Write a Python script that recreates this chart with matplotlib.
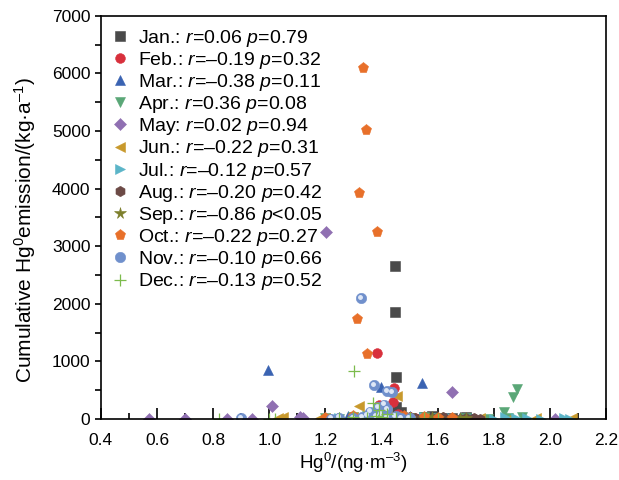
import matplotlib
matplotlib.use("Agg")
import matplotlib.pyplot as plt
from matplotlib.ticker import MultipleLocator

plt.rcParams["font.family"] = ["Liberation Sans", "DejaVu Sans"]
plt.rcParams["mathtext.fontset"] = "custom"
plt.rcParams["mathtext.rm"] = "Liberation Sans"
plt.rcParams["mathtext.it"] = "Liberation Sans:italic"

# Hg0 concentration (x) and cumulative emission (y) per month
jan_x = [1.448, 1.448, 1.45, 1.45, 1.38, 1.42, 1.46, 1.50, 1.55, 1.60, 1.65, 1.70, 1.43, 1.47, 1.36, 1.52, 1.58, 1.62, 1.72]
jan_y = [2658, 1859, 730, 208, 30, 20, 60, 15, 40, 25, 10, 30, 90, 120, 10, 5, 50, 20, 8]
feb_x = [1.384, 1.445, 1.42, 1.40, 1.44, 1.35, 1.38, 1.41, 1.43, 1.46, 1.30, 1.50, 1.33, 1.47, 1.36, 1.52, 1.29, 1.39]
feb_y = [1146, 538, 200, 150, 300, 40, 20, 60, 10, 80, 15, 30, 5, 25, 90, 10, 30, 250]
mar_x = [0.995, 1.544, 1.398, 0.90, 1.25, 1.30, 1.35, 1.40, 1.45, 1.50, 1.55, 1.60, 1.68, 1.72, 1.22, 1.38, 1.28]
mar_y = [851, 625, 556, 20, 30, 10, 40, 60, 20, 50, 15, 30, 40, 10, 5, 100, 60]
apr_x = [1.883, 1.869, 1.837, 1.20, 1.30, 1.35, 1.40, 1.45, 1.50, 1.55, 1.60, 1.70, 1.78, 1.90, 1.85, 1.25]
apr_y = [521, 382, 122, 10, 30, 60, 20, 40, 10, 30, 20, 15, 5, 30, 10, 5]
may_x = [1.202, 1.651, 1.01, 0.57, 0.70, 0.85, 0.94, 1.11, 1.12, 1.20, 1.24, 1.30, 1.35, 1.40, 1.45, 1.50, 1.55, 1.70, 2.02]
may_y = [3248, 469, 226, 0, 0, 0, 0, 40, 10, 20, 5, 0, 30, 60, 40, 10, 20, 5, 0]
jun_x = [1.32, 1.455, 1.03, 1.05, 1.18, 1.20, 1.30, 1.35, 1.40, 1.45, 1.50, 1.55, 1.60, 1.75, 1.95, 2.08, 1.42, 1.85]
jun_y = [226, 400, 20, 30, 10, 25, 40, 60, 80, 50, 20, 10, 30, 20, 15, 10, 120, 5]
jul_x = [1.25, 1.35, 1.42, 1.48, 1.55, 1.60, 1.65, 1.72, 1.80, 1.84, 1.88, 1.92, 1.97, 2.05, 2.07, 1.50, 1.38]
jul_y = [10, 20, 40, 15, 30, 20, 10, 25, 5, 30, 20, 15, 5, 10, 0, 60, 80]
aug_x = [1.45, 1.48, 1.50, 1.52, 1.55, 1.58, 1.60, 1.65, 1.68, 1.70, 1.73, 1.75, 1.40, 1.35, 1.30, 1.62]
aug_y = [20, 10, 30, 15, 5, 25, 10, 20, 5, 15, 25, 8, 40, 15, 5, 35]
sep_x = [1.30, 1.35, 1.40, 1.45, 1.50, 1.55, 1.60, 1.65, 1.70, 1.58, 1.68]
sep_y = [10, 20, 30, 15, 25, 10, 20, 5, 15, 30, 12]
oct_x = [1.334, 1.345, 1.32, 1.384, 1.313, 1.348, 1.20, 1.30, 1.38, 1.42, 1.45, 1.50, 1.55, 1.60, 1.25, 1.48, 1.65]
oct_y = [6097, 5020, 3925, 3248, 1737, 1129, 10, 50, 100, 30, 20, 15, 40, 10, 5, 60, 20]
nov_x = [1.327, 1.373, 1.42, 1.437, 1.388, 1.42, 0.90, 1.25, 1.30, 1.33, 1.35, 1.38, 1.40, 1.42, 1.45, 1.47, 1.50, 1.22, 1.36, 1.41]
nov_y = [2102, 590, 486, 469, 208, 174, 10, 20, 10, 30, 60, 40, 80, 20, 50, 15, 10, 5, 130, 250]
dec_x = [1.302, 1.37, 0.82, 1.00, 1.02, 1.25, 1.30, 1.35, 1.38, 1.40, 1.42, 1.45, 1.50, 1.55, 1.60, 1.39]
dec_y = [834, 278, 0, 0, 5, 10, 30, 20, 60, 40, 90, 15, 25, 10, 5, 150]

labels = [
    "Jan.: $\\it{r}$=0.06 $\\it{p}$=0.79",
    "Feb.: $\\it{r}$=\u20130.19 $\\it{p}$=0.32",
    "Mar.: $\\it{r}$=\u20130.38 $\\it{p}$=0.11",
    "Apr.: $\\it{r}$=0.36 $\\it{p}$=0.08",
    "May: $\\it{r}$=0.02 $\\it{p}$=0.94",
    "Jun.: $\\it{r}$=\u20130.22 $\\it{p}$=0.31",
    "Jul.: $\\it{r}$=\u20130.12 $\\it{p}$=0.57",
    "Aug.: $\\it{r}$=\u20130.20 $\\it{p}$=0.42",
    "Sep.: $\\it{r}$=\u20130.86 $\\it{p}$<0.05",
    "Oct.: $\\it{r}$=\u20130.22 $\\it{p}$=0.27",
    "Nov.: $\\it{r}$=\u20130.10 $\\it{p}$=0.66",
    "Dec.: $\\it{r}$=\u20130.13 $\\it{p}$=0.52",
]

series = [
    (jan_x, jan_y, "s", "#4a4a4a", 6.5),
    (feb_x, feb_y, "o", "#d8303c", 7),
    (mar_x, mar_y, "^", "#3a63b2", 7.5),
    (apr_x, apr_y, "v", "#5aa777", 7.5),
    (may_x, may_y, "D", "#9070b2", 6.5),
    (jun_x, jun_y, "<", "#c8992c", 7.5),
    (jul_x, jul_y, ">", "#5bb5c8", 7.5),
    (aug_x, aug_y, "h", "#6c4a46", 7.5),
    (sep_x, sep_y, "*", "#7d7f2c", 8.5),
    (oct_x, oct_y, "p", "#e8702a", 8),
    (nov_x, nov_y, "o", "#7090cc", 7.5),
    (dec_x, dec_y, "+", "#7cbb4c", 8),
]

fig = plt.figure(figsize=(6.19, 4.8), dpi=100)
ax = fig.add_axes([0.163, 0.127, 0.816, 0.840])

for (xs, ys, mk, col, ms), lab in zip(series, labels):
    if mk == "+":
        ax.plot(xs, ys, linestyle="none", marker=mk, color=col, markersize=ms,
                markeredgewidth=0.9, label=lab)
    else:
        ax.plot(xs, ys, linestyle="none", marker=mk, color=col, markersize=ms,
                markeredgewidth=0.4, markeredgecolor=col, label=lab)
    if mk == "o" and col == "#7090cc":
        # sphere highlight
        ax.plot([x - 0.004 for x in xs], [y + 25 for y in ys], linestyle="none",
                marker="o", color="#dfe8f7", markersize=2.5)

ax.set_xlim(0.4, 2.2)
ax.set_ylim(0, 7000)
ax.xaxis.set_major_locator(MultipleLocator(0.2))
ax.xaxis.set_minor_locator(MultipleLocator(0.1))
ax.yaxis.set_major_locator(MultipleLocator(1000))
ax.yaxis.set_minor_locator(MultipleLocator(500))
ax.xaxis.set_major_formatter(plt.FuncFormatter(lambda v, p: "%.1f" % v))
ax.tick_params(axis="x", which="major", direction="in", length=8, width=1.2, labelsize=12.5, pad=10)
ax.tick_params(axis="x", which="minor", direction="in", length=4, width=1.2)
ax.tick_params(axis="y", which="both", direction="out", length=4, width=1.2, labelsize=12.5)
for s in ax.spines.values():
    s.set_linewidth(1.2)

ax.set_xlabel("Hg$^0$/(ng\u00b7m$^{\u20133}$)", fontsize=13.5, labelpad=2)
ax.set_ylabel("Cumulative Hg$^0$emission/(kg\u00b7a$^{\u20131}$)", fontsize=15)
ax.yaxis.set_label_coords(-0.125, 0.47)

ax.legend(loc="upper left", frameon=False, fontsize=14, handlelength=0.8,
          handletextpad=0.5, labelspacing=0.06, borderaxespad=0.2,
          bbox_to_anchor=(0.0, 1.0))

fig.savefig("out.png", dpi=100)
